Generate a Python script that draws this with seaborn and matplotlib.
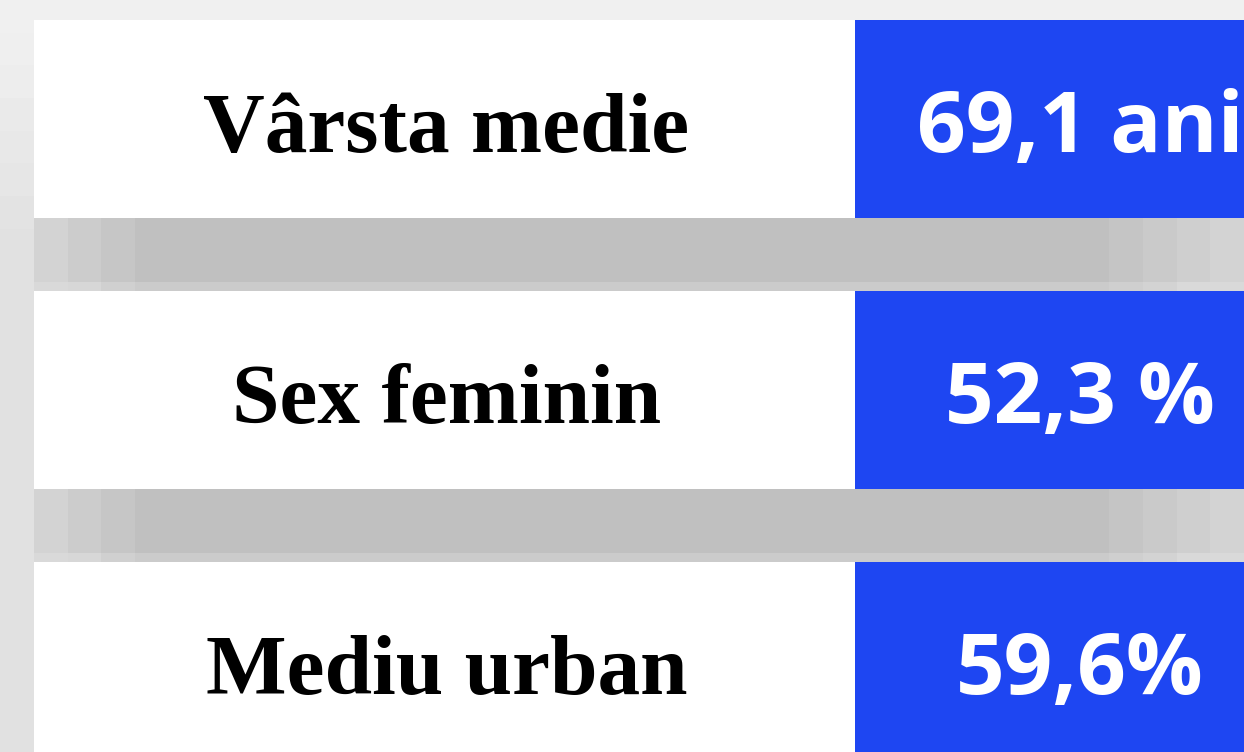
import numpy as np
import matplotlib
matplotlib.use("Agg")
import matplotlib.pyplot as plt
import seaborn as sns

# Data shown on the card
labels = ["Vârsta medie", "Sex feminin", "Mediu urban"]
values = [69.1, 52.3, 59.6]
value_texts = ["69,1 ani", "52,3 %", "59,6%"]

# Layout (pixels)
W, H = 1244, 752
row_tops = [20, 291, 562]
row_h = 198
panel_left, split_x = 34, 855
blue = "#1E46F2"

sns.set_style("white")

fig = plt.figure(figsize=(W / 100, H / 100), dpi=100)
ax = fig.add_axes([0, 0, 1, 1])
ax.set_xlim(0, W)
ax.set_ylim(H, 0)
ax.axis("off")

# light grey background, slightly darker toward the bottom
n_rows = 23
ys = np.linspace(0, 1, n_rows)
grad = np.clip(0.945 - 0.07 * ys / 0.35, 0.88, 0.945)
bg = np.repeat(grad[:, None], 38, axis=1)
bg[0, :] = 0.94
ax.imshow(bg, cmap="gray", vmin=0, vmax=1, extent=[0, W, H, 0],
          interpolation="nearest", aspect="auto", zorder=0)

# grey separator bands between rows
band_cols = np.full(36, 0.753)
band_cols[:3] = [0.83, 0.80, 0.775]
band_cols[-4:] = [0.77, 0.79, 0.81, 0.83]
for i in range(len(labels) - 1):
    top = row_tops[i] + row_h - 1
    bottom = row_tops[i + 1]
    band = np.repeat(band_cols[None, :], 8, axis=0)
    band[-1, :] = np.minimum(band[-1, :] + 0.04, 0.85)
    ax.imshow(band, cmap="gray", vmin=0, vmax=1,
              extent=[panel_left, W, bottom, top],
              interpolation="nearest", aspect="auto", zorder=1)

# white label panels and blue value panels
centers = [t + row_h / 2 for t in row_tops]
ax.barh(centers, split_x - panel_left, left=panel_left, height=row_h,
        color="white", edgecolor="none", zorder=2)
ax.barh(centers, W - split_x + 20, left=split_x, height=row_h,
        color=blue, edgecolor="none", zorder=2)

label_x = (panel_left + split_x) / 2 + 2
value_x = 1080
for top, lab, txt in zip(row_tops, labels, value_texts):
    base = top + 132
    ax.text(label_x, base, lab, ha="center", va="baseline",
            fontsize=61.5, fontweight="bold", family="Liberation Serif",
            color="black", zorder=3)
    ax.text(value_x, base, txt, ha="center", va="baseline",
            fontsize=61.5, fontweight="bold", family="Open Sans",
            color="white", zorder=3)

fig.savefig("out.png", dpi=100)
